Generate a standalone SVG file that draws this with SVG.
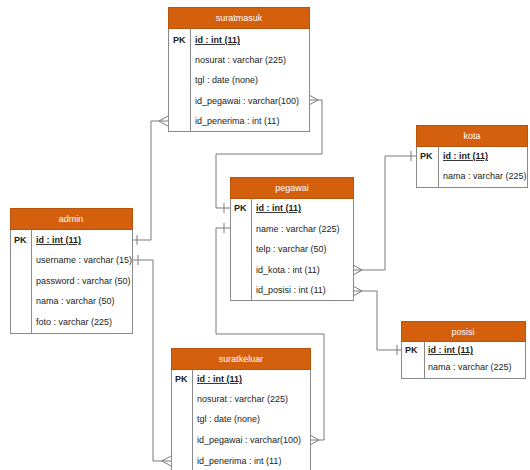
<svg xmlns="http://www.w3.org/2000/svg" width="530" height="470" viewBox="0 0 530 470">
<style>
.box{fill:#fff;stroke:#8a8a8a;stroke-width:1}
.hdr{fill:#d4600e;stroke:#b8540c;stroke-width:1}
.div{stroke:#8a8a8a;stroke-width:1}
.t{font-family:"Liberation Sans",Arial,sans-serif;font-size:9px;fill:#222}
.pk{font-weight:bold}
.key{font-weight:bold;text-decoration:underline}
.h{fill:#fff;text-anchor:middle}
.c{fill:none;stroke:#7a7a7a;stroke-width:1}
</style>
<rect width="530" height="470" fill="#fff"/>
<g id="connectors">
  <!-- admin.id -> suratmasuk.id_penerima -->
  <path class="c" d="M132,240 H151 V121 H168"/>
  <path class="c" d="M137,235 V245"/>
  <path class="c" d="M168,116 L159,121 L168,126"/>
  <!-- admin.username -> suratkeluar.id_penerima -->
  <path class="c" d="M132,260 H153 V461 H171"/>
  <path class="c" d="M138,255 V265"/>
  <path class="c" d="M171,456 L162,461 L171,466"/>
  <!-- suratmasuk.id_pegawai -> pegawai.id -->
  <path class="c" d="M309,100 H322 V154 H216 V208 H230"/>
  <path class="c" d="M309,95 L318,100 L309,105"/>
  <path class="c" d="M224,203 V213"/>
  <!-- suratkeluar.id_pegawai -> pegawai -->
  <path class="c" d="M310,440 H324 V334 H216 V228 H230"/>
  <path class="c" d="M310,435 L319,440 L310,445"/>
  <path class="c" d="M224,223 V233"/>
  <!-- pegawai.id_kota -> kota.id -->
  <path class="c" d="M353,270 H385 V156 H416"/>
  <path class="c" d="M353,265 L362,270 L353,275"/>
  <path class="c" d="M411,151 V161"/>
  <!-- pegawai.id_posisi -> posisi.id -->
  <path class="c" d="M353,291 H377 V350 H401"/>
  <path class="c" d="M353,286 L362,291 L353,296"/>
  <path class="c" d="M397,345 V355"/>
</g>
<g id="suratmasuk">
  <rect class="box" x="168.5" y="7.5" width="141" height="124"/>
  <rect class="hdr" x="168.5" y="7.5" width="141" height="21"/>
  <line class="div" x1="190.5" y1="28.5" x2="190.5" y2="131.5"/>
  <text class="t h" x="239" y="21">suratmasuk</text>
  <text class="t pk" x="173" y="43">PK</text>
  <text class="t key" x="195" y="43">id : int (11)</text>
  <text class="t" x="195" y="63">nosurat : varchar (225)</text>
  <text class="t" x="195" y="83">tgl : date (none)</text>
  <text class="t" x="195" y="104">id_pegawai : varchar(100)</text>
  <text class="t" x="195" y="124">id_penerima : int (11)</text>
</g>
<g id="admin">
  <rect class="box" x="10.5" y="208.5" width="122" height="125"/>
  <rect class="hdr" x="10.5" y="208.5" width="122" height="21"/>
  <line class="div" x1="31.5" y1="229.5" x2="31.5" y2="333.5"/>
  <text class="t h" x="71" y="222">admin</text>
  <text class="t pk" x="14" y="243">PK</text>
  <text class="t key" x="36" y="243">id : int (11)</text>
  <text class="t" x="36" y="263">username : varchar (15)</text>
  <text class="t" x="36" y="284">password : varchar (50)</text>
  <text class="t" x="36" y="304">nama : varchar (50)</text>
  <text class="t" x="36" y="325">foto : varchar (225)</text>
</g>
<g id="pegawai">
  <rect class="box" x="230.5" y="177.5" width="123" height="123"/>
  <rect class="hdr" x="230.5" y="177.5" width="123" height="21"/>
  <line class="div" x1="251.5" y1="198.5" x2="251.5" y2="300.5"/>
  <text class="t h" x="292" y="191">pegawai</text>
  <text class="t pk" x="234" y="211">PK</text>
  <text class="t key" x="256" y="211">id : int (11)</text>
  <text class="t" x="256" y="232">name : varchar (225)</text>
  <text class="t" x="256" y="252">telp : varchar (50)</text>
  <text class="t" x="256" y="273">id_kota : int (11)</text>
  <text class="t" x="256" y="293">id_posisi : int (11)</text>
</g>
<g id="kota">
  <rect class="box" x="416.5" y="125.5" width="111" height="62"/>
  <rect class="hdr" x="416.5" y="125.5" width="111" height="21"/>
  <line class="div" x1="438.5" y1="146.5" x2="438.5" y2="187.5"/>
  <text class="t h" x="472" y="139">kota</text>
  <text class="t pk" x="420" y="159">PK</text>
  <text class="t key" x="443" y="159">id : int (11)</text>
  <text class="t" x="443" y="179">nama : varchar (225)</text>
</g>
<g id="posisi">
  <rect class="box" x="401.5" y="321.5" width="124" height="57"/>
  <rect class="hdr" x="401.5" y="321.5" width="124" height="20"/>
  <line class="div" x1="424.5" y1="341.5" x2="424.5" y2="378.5"/>
  <text class="t h" x="463" y="335">posisi</text>
  <text class="t pk" x="405" y="353">PK</text>
  <text class="t key" x="428" y="353">id : int (11)</text>
  <text class="t" x="428" y="370">nama : varchar (225)</text>
</g>
<g id="suratkeluar">
  <rect class="box" x="171.5" y="348.5" width="139" height="125"/>
  <rect class="hdr" x="171.5" y="348.5" width="139" height="21"/>
  <line class="div" x1="192.5" y1="369.5" x2="192.5" y2="473"/>
  <text class="t h" x="241" y="362">suratkeluar</text>
  <text class="t pk" x="175" y="382">PK</text>
  <text class="t key" x="197" y="382">id : int (11)</text>
  <text class="t" x="197" y="402">nosurat : varchar (225)</text>
  <text class="t" x="197" y="422">tgl : date (none)</text>
  <text class="t" x="197" y="443">id_pegawai : varchar(100)</text>
  <text class="t" x="197" y="464">id_penerima : int (11)</text>
</g>
</svg>
